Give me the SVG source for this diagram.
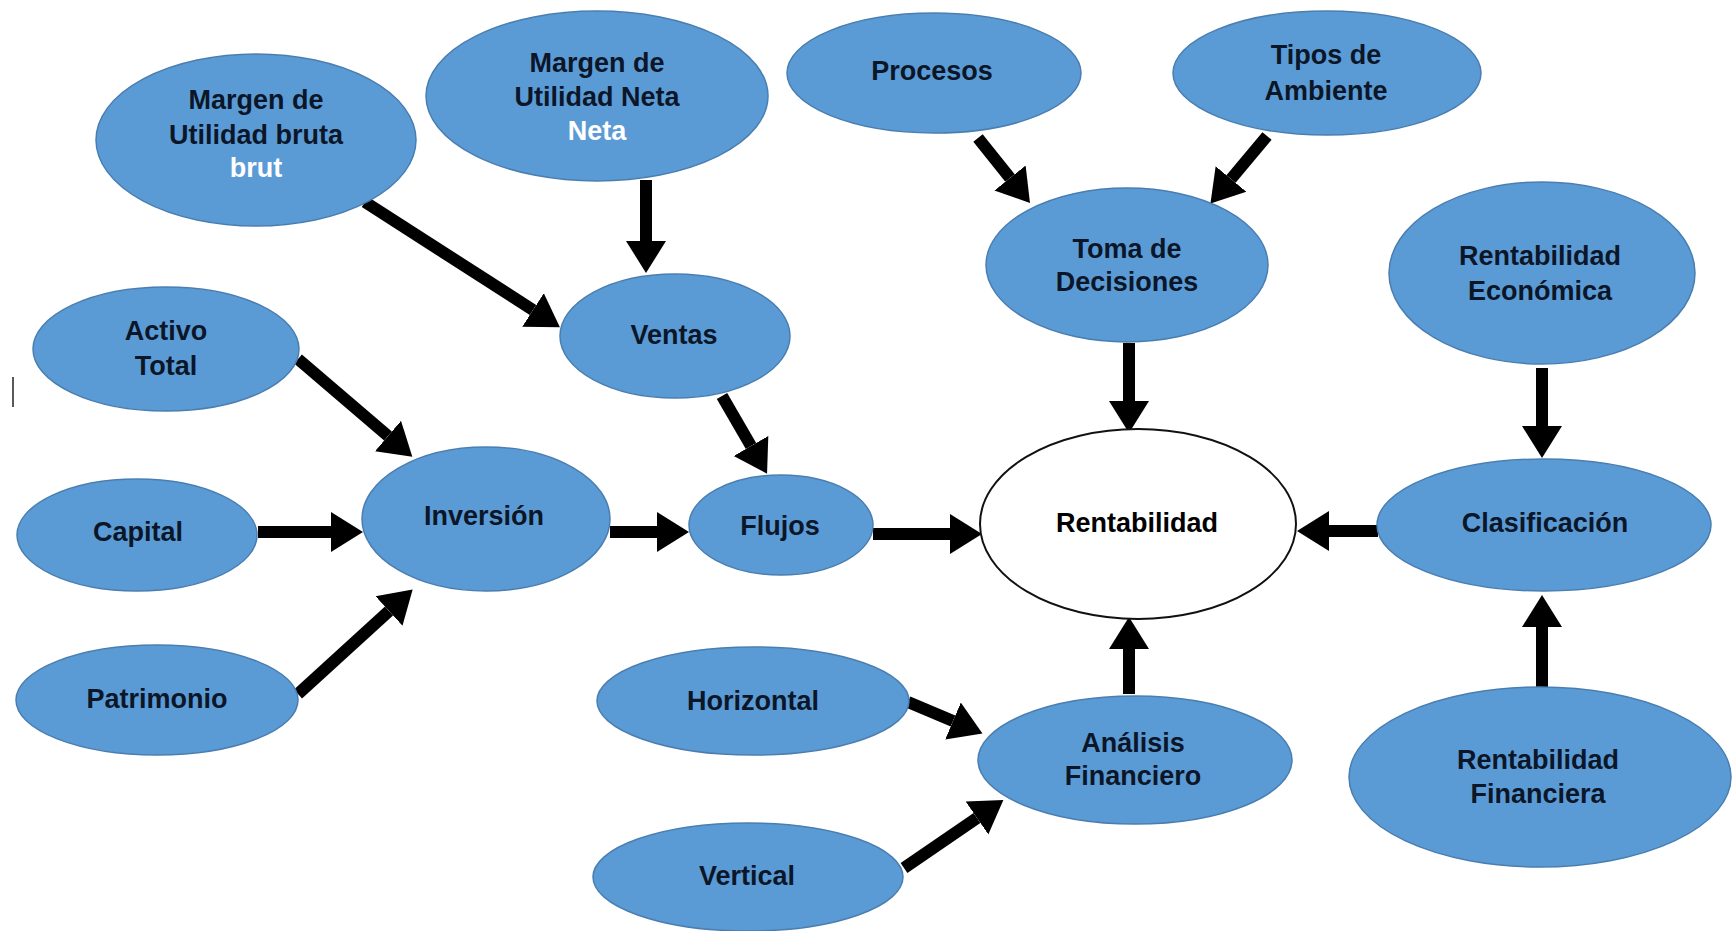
<svg xmlns="http://www.w3.org/2000/svg" width="1733" height="931" viewBox="0 0 1733 931">
<style>
.n{fill:#5B9BD5;stroke:#4A7EB0;stroke-width:1.5}
.w{fill:#fff;stroke:#111;stroke-width:2}
text{font-family:"Liberation Sans",Arial,sans-serif;font-weight:bold;font-size:27px;text-anchor:middle;fill:#0B1628}
text.wt{fill:#fff}
text.bk{fill:#000}
.c line{stroke:#000;stroke-width:12;marker-end:url(#ah)}
</style>
<defs>
<marker id="ah" markerUnits="userSpaceOnUse" markerWidth="34" markerHeight="42" viewBox="0 -21 34 42" refX="0" refY="0" orient="auto">
<path d="M0,-20 L32,0 L0,20 z" fill="#000"/>
</marker>
</defs>
<rect width="1733" height="931" fill="#fff"/>
<g class="c" id="connectors">
<line x1="365" y1="202" x2="533" y2="310"/>
<line x1="646" y1="180" x2="646" y2="241"/>
<line x1="978" y1="138" x2="1010" y2="178"/>
<line x1="1267" y1="136" x2="1231" y2="179"/>
<line x1="1129" y1="343" x2="1129" y2="401"/>
<line x1="298" y1="359" x2="388" y2="436"/>
<line x1="722" y1="396" x2="751" y2="446"/>
<line x1="258" y1="532" x2="331" y2="532"/>
<line x1="298" y1="694" x2="389" y2="611"/>
<line x1="610" y1="532" x2="657" y2="532"/>
<line x1="873" y1="534" x2="950" y2="534"/>
<line x1="1378" y1="531" x2="1329" y2="531"/>
<line x1="1542" y1="368" x2="1542" y2="426"/>
<line x1="1542" y1="687" x2="1542" y2="627"/>
<line x1="1129" y1="694" x2="1129" y2="649"/>
<line x1="908" y1="702" x2="953" y2="721"/>
<line x1="904" y1="868" x2="977" y2="818"/>
</g>
<line x1="13" y1="377" x2="13" y2="407" stroke="#222" stroke-width="1.5"/>
<g id="margen-bruta"><ellipse class="n" cx="256" cy="140" rx="160" ry="86"/><text x="256" y="109">Margen de</text><text x="256" y="144">Utilidad bruta</text><text x="256" y="177" class="wt">brut</text></g>
<g id="margen-neta"><ellipse class="n" cx="597" cy="96" rx="171" ry="85"/><text x="597" y="72">Margen de</text><text x="597" y="106">Utilidad Neta</text><text x="597" y="140" class="wt">Neta</text></g>
<g id="procesos"><ellipse class="n" cx="934" cy="73" rx="147" ry="60"/><text x="932" y="80">Procesos</text></g>
<g id="tipos"><ellipse class="n" cx="1327" cy="73" rx="154" ry="62"/><text x="1326" y="64">Tipos de</text><text x="1326" y="100">Ambiente</text></g>
<g id="toma"><ellipse class="n" cx="1127" cy="265" rx="141" ry="77"/><text x="1127" y="258">Toma de</text><text x="1127" y="291">Decisiones</text></g>
<g id="rent-economica"><ellipse class="n" cx="1542" cy="273" rx="153" ry="91"/><text x="1540" y="265">Rentabilidad</text><text x="1540" y="300">Económica</text></g>
<g id="activo"><ellipse class="n" cx="166" cy="349" rx="133" ry="62"/><text x="166" y="340">Activo</text><text x="166" y="375">Total</text></g>
<g id="ventas"><ellipse class="n" cx="675" cy="336" rx="115" ry="62"/><text x="674" y="344">Ventas</text></g>
<g id="capital"><ellipse class="n" cx="137" cy="535" rx="120" ry="56"/><text x="138" y="541">Capital</text></g>
<g id="inversion"><ellipse class="n" cx="486" cy="519" rx="124" ry="72"/><text x="484" y="525">Inversión</text></g>
<g id="flujos"><ellipse class="n" cx="781" cy="525" rx="92" ry="50"/><text x="780" y="535">Flujos</text></g>
<g id="rentabilidad"><ellipse class="w" cx="1138" cy="524" rx="158" ry="95"/><text x="1137" y="532" class="bk">Rentabilidad</text></g>
<g id="clasificacion"><ellipse class="n" cx="1544" cy="525" rx="167" ry="66"/><text x="1545" y="532">Clasificación</text></g>
<g id="patrimonio"><ellipse class="n" cx="157" cy="700" rx="141" ry="55"/><text x="157" y="708">Patrimonio</text></g>
<g id="horizontal"><ellipse class="n" cx="753" cy="701" rx="156" ry="54"/><text x="753" y="710">Horizontal</text></g>
<g id="analisis"><ellipse class="n" cx="1135" cy="760" rx="157" ry="64"/><text x="1133" y="752">Análisis</text><text x="1133" y="785">Financiero</text></g>
<g id="rent-financiera"><ellipse class="n" cx="1540" cy="777" rx="191" ry="90"/><text x="1538" y="769">Rentabilidad</text><text x="1538" y="803">Financiera</text></g>
<g id="vertical"><ellipse class="n" cx="748" cy="877" rx="155" ry="54"/><text x="747" y="885">Vertical</text></g>
</svg>
